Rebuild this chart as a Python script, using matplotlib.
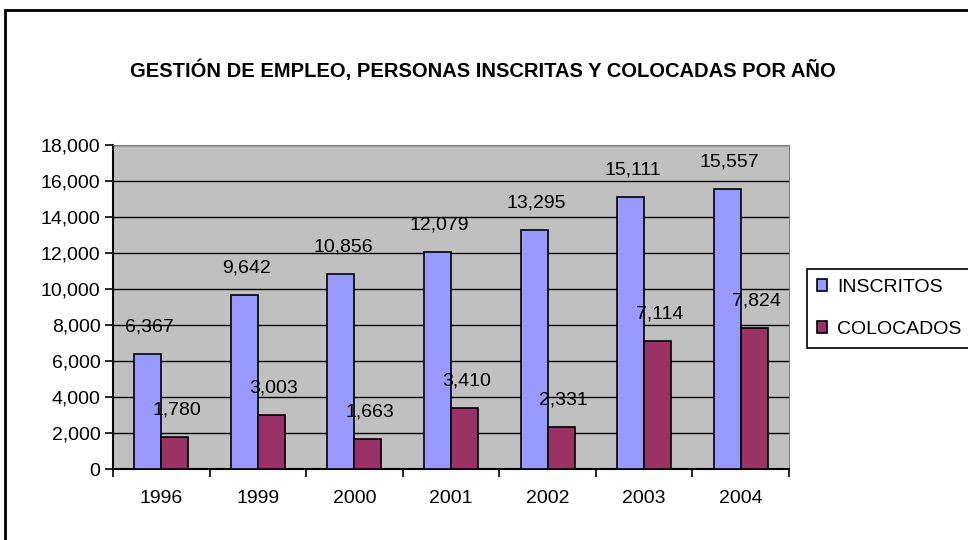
import matplotlib.pyplot as plt
import numpy as np
from matplotlib.patches import Rectangle
from matplotlib.ticker import FuncFormatter

years = ['1996', '1999', '2000', '2001', '2002', '2003', '2004']
inscritos = [6367, 9642, 10856, 12079, 13295, 15111, 15557]
colocados = [1780, 3003, 1663, 3410, 2331, 7114, 7824]
series_names = ['INSCRITOS', 'COLOCADOS']
title = 'GESTIÓN DE EMPLEO, PERSONAS INSCRITAS Y COLOCADAS POR AÑO'

plt.rcParams['font.family'] = ['Liberation Sans', 'DejaVu Sans']

W, H = 968, 540
fig = plt.figure(figsize=(W / 100, H / 100), dpi=100)
ax = fig.add_axes([113 / W, 1 - 469 / H, (789 - 113) / W, (469 - 145) / H])
ax.set_facecolor('#C0C0C0')

x = np.arange(len(years))
bw = 0.28
b1 = ax.bar(x - bw / 2, inscritos, bw, color='#9999FF', edgecolor='black',
            linewidth=1.2, zorder=3, label=series_names[0])
b2 = ax.bar(x + bw / 2, colocados, bw, color='#993366', edgecolor='black',
            linewidth=1.2, zorder=3, label=series_names[1])

for bars, vals in ((b1, inscritos), (b2, colocados)):
    for rect, v in zip(bars, vals):
        ax.annotate('{:,}'.format(v), (rect.get_x() + rect.get_width() / 2, v),
                    xytext=(2, 27), textcoords='offset pixels',
                    ha='center', va='center', fontsize=14, zorder=4)

ax.set_xlim(-0.5, len(years) - 0.5)
ax.set_ylim(0, 18000)
ax.set_yticks(np.arange(0, 18001, 2000))
ax.yaxis.set_major_formatter(FuncFormatter(lambda v, p: '{:,}'.format(int(v))))
ax.yaxis.grid(True, color='black', linewidth=1, zorder=1)
ax.set_axisbelow(True)

ax.set_xticks(x)
ax.set_xticklabels(years)
ax.set_xticks(np.arange(-0.5, len(years)), minor=True)
ax.tick_params(axis='x', which='major', length=0, pad=15, labelsize=14)
ax.tick_params(axis='x', which='minor', length=6, width=1.2, direction='out')
ax.tick_params(axis='y', length=6, width=1.2, pad=3, labelsize=14)

for s in ('top', 'right'):
    ax.spines[s].set_color('#808080')
for s in ('left', 'bottom'):
    ax.spines[s].set_color('black')
    ax.spines[s].set_linewidth(1.5)

fig.text(483 / W, 1 - 70 / H, title, ha='center', va='center',
         fontsize=14.5, fontweight='bold')

leg = fig.legend(loc='upper left', bbox_to_anchor=(807 / W, 1 - 269 / H),
                 borderaxespad=0, fontsize=14, handlelength=0.55,
                 handleheight=0.55, handletextpad=0.5, labelspacing=1.3,
                 fancybox=False, edgecolor='black', framealpha=1,
                 borderpad=0.5)
leg.get_frame().set_linewidth(1.2)

fig.add_artist(Rectangle((5 / W, -0.1), 1.2, 1 - 10 / H + 0.1,
                         transform=fig.transFigure, fill=False,
                         edgecolor='black', linewidth=2, clip_on=False))

fig.savefig('out.png', dpi=100)
